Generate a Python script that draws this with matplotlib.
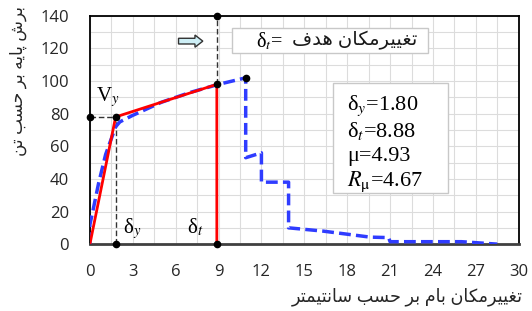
import matplotlib
matplotlib.use("Agg")
import matplotlib.pyplot as plt
from matplotlib.patches import FancyArrow, Rectangle
from matplotlib.ticker import MultipleLocator

# --- data ---
pushover_x = [0, 0.0, 0.2, 0.6, 1.1, 1.8, 2.1, 3.0, 5.0, 7.0, 9.0, 10.9,
              10.9, 12.0, 12.0, 13.9, 13.9, 16.3, 19.6, 20.9, 21.0, 26.0, 28.5]
pushover_y = [0, 12, 20, 37, 55, 72, 75, 79, 87, 93, 98, 102,
              53, 56, 38, 38, 10, 8, 4.3, 4, 1.5, 1.5, 0]

bilinear_x = [0, 1.8, 8.88, 8.88]
bilinear_y = [0, 78, 98, 0]

delta_y, v_y = 1.8, 78
delta_t, v_t = 8.88, 98
peak_x, peak_y = 10.9, 102

x_ticks = list(range(0, 31, 3))
y_ticks = list(range(0, 141, 20))

stats = ["δ$_y$=1.80", "δ$_t$=8.88", "μ=4.93", "$R_\\mathrm{μ}$=4.67"]

fa_target = "تغییرمکان هدف"
fa_xlabel = "تغییرمکان بام بر حسب سانتیمتر"
fa_ylabel = "برش پایه بر حسب تن"

# simple Persian shaping: (isolated, final, initial, medial)
FORMS = {
    "ا": ("\uFE8D", "\uFE8E", None, None),
    "د": ("\uFEA9", "\uFEAA", None, None),
    "ر": ("\uFEAD", "\uFEAE", None, None),
    "ب": ("\uFE8F", "\uFE90", "\uFE91", "\uFE92"),
    "ت": ("\uFE95", "\uFE96", "\uFE97", "\uFE98"),
    "ح": ("\uFEA1", "\uFEA2", "\uFEA3", "\uFEA4"),
    "س": ("\uFEB1", "\uFEB2", "\uFEB3", "\uFEB4"),
    "ش": ("\uFEB5", "\uFEB6", "\uFEB7", "\uFEB8"),
    "غ": ("\uFECD", "\uFECE", "\uFECF", "\uFED0"),
    "ف": ("\uFED1", "\uFED2", "\uFED3", "\uFED4"),
    "م": ("\uFEE1", "\uFEE2", "\uFEE3", "\uFEE4"),
    "ن": ("\uFEE5", "\uFEE6", "\uFEE7", "\uFEE8"),
    "ه": ("\uFEE9", "\uFEEA", "\uFEEB", "\uFEEC"),
    "پ": ("\uFB56", "\uFB57", "\uFB58", "\uFB59"),
    "ک": ("\uFB8E", "\uFB8F", "\uFB90", "\uFB91"),
    "ی": ("\uFBFC", "\uFBFD", "\uFBFE", "\uFBFF"),
}


def joins_left(ch):
    return ch in FORMS and FORMS[ch][2] is not None


def shape(text):
    out = []
    for i, ch in enumerate(text):
        if ch not in FORMS:
            out.append(ch)
            continue
        prev = text[i - 1] if i > 0 else " "
        nxt = text[i + 1] if i + 1 < len(text) else " "
        from_prev = joins_left(prev)
        to_next = joins_left(ch) and nxt in FORMS
        iso, fin, ini, med = FORMS[ch]
        if from_prev and to_next:
            out.append(med)
        elif from_prev:
            out.append(fin)
        elif to_next:
            out.append(ini)
        else:
            out.append(iso)
    return "".join(out)[::-1]


SANS = ["Open Sans", "DejaVu Sans"]
SERIF = ["Liberation Serif", "DejaVu Sans"]
plt.rcParams["mathtext.fontset"] = "stix"

fig = plt.figure(figsize=(5.32, 3.11), dpi=100)
ax = fig.add_axes([0.169, 0.215, 0.806, 0.734])

ax.set_xlim(0, 30)
ax.set_ylim(0, 140)
ax.set_xticks(x_ticks)
ax.set_yticks(y_ticks)
ax.xaxis.set_minor_locator(MultipleLocator(1.5))
ax.yaxis.set_minor_locator(MultipleLocator(10))
ax.grid(True, which="both", color="#dcdcdc", linewidth=0.8)
ax.set_axisbelow(True)
ax.tick_params(which="both", length=0, labelsize=12, labelcolor="#262626")
ax.tick_params(axis="x", pad=14)
ax.tick_params(axis="y", pad=15)
for lab in ax.get_xticklabels() + ax.get_yticklabels():
    lab.set_family(SANS)
for sp in ax.spines.values():
    sp.set_linewidth(1.3)
    sp.set_color("black")
ax.spines["bottom"].set_color("#404040")
ax.spines["bottom"].set_linewidth(2)

# helper dashed lines
ax.plot([0, delta_y], [v_y, v_y], color="#333333", ls="--", lw=1, dashes=(4, 2))
ax.plot([delta_y, delta_y], [0, v_y], color="#333333", ls="--", lw=1, dashes=(4, 2))
ax.plot([delta_t, delta_t], [v_t, 140], color="#333333", ls="--", lw=1, dashes=(4, 2))

ax.plot(pushover_x, pushover_y, color="#2f3cff", lw=2.5, ls="--", dashes=(3.4, 1.5), zorder=3)
ax.plot(bilinear_x, bilinear_y, color="#ff0000", lw=2, zorder=4)

ax.plot([0, delta_y, delta_y, delta_t, delta_t, delta_t, peak_x],
        [v_y, v_y, 0, v_t, 140, 0, peak_y],
        ls="none", marker="o", ms=4.5, color="black", zorder=6, clip_on=False)

ax.text(0.45, 87.5, "V$_y$", family=SERIF, fontsize=15, ha="left", va="baseline")
ax.text(2.3, 6.5, "δ$_y$", family=SERIF, fontsize=15, ha="left", va="baseline")
ax.text(6.8, 6.5, "δ$_t$", family=SERIF, fontsize=15, ha="left", va="baseline")

# target box and arrow
ax.add_patch(Rectangle((9.95, 117.3), 13.7, 15.2, facecolor="white",
                       edgecolor="#c8c8c8", lw=1, zorder=5))
ax.text(11.6, 124.5, "δ$_t$=", family=SERIF, fontsize=14.5, ha="left", va="center", zorder=6)
ax.text(22.9, 124.8, shape(fa_target), family=SANS, fontsize=14, ha="right",
        va="center", zorder=6, color="#1a1a1a")
ax.add_patch(FancyArrow(6.2, 124.5, 1.15, 0, width=3.5, head_width=7.5, head_length=0.55,
                        length_includes_head=False, facecolor="#cdeef5",
                        edgecolor="#333333", lw=1, zorder=5))

# stats box
ax.add_patch(Rectangle((17.0, 31.5), 8.05, 67.5, facecolor="white",
                       edgecolor="#c8c8c8", lw=1, zorder=5))
for i, line in enumerate(stats):
    ax.text(18.0, 85 - 15.5 * i, line, family=SERIF, fontsize=16,
            ha="left", va="center", zorder=6)

fig.text(0.765, 0.045, shape(fa_xlabel), family=SANS, fontsize=12.7,
         ha="center", va="center", color="#262626")
fig.text(0.035, 0.74, shape(fa_ylabel), family=SANS, fontsize=12.2,
         ha="center", va="center", rotation=90, color="#262626")

fig.savefig("out.png", dpi=100)
